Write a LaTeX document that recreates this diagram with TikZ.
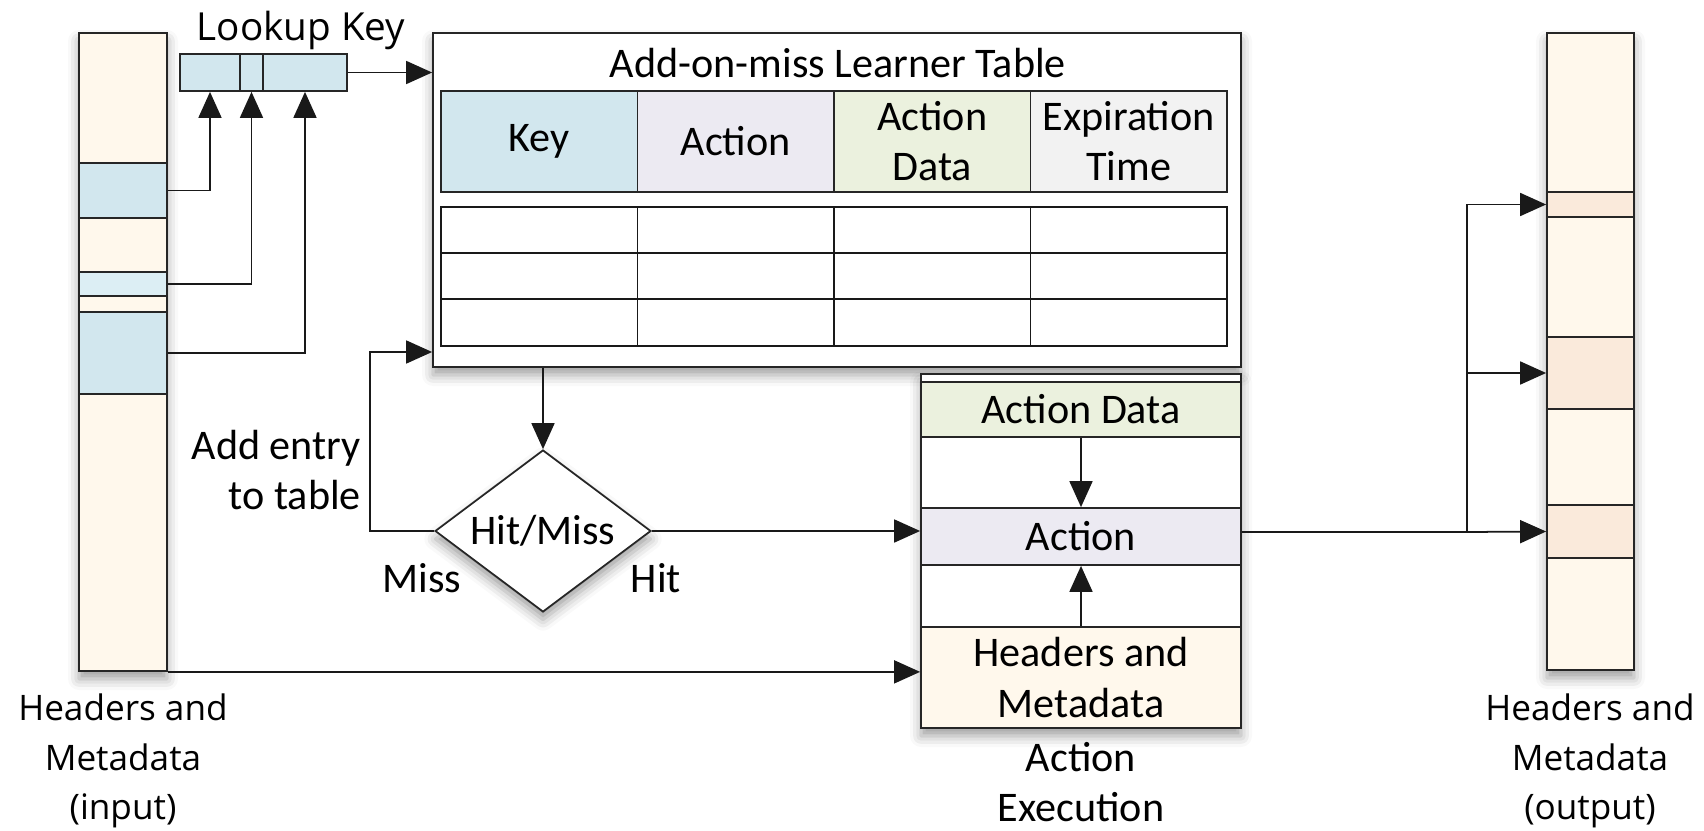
\documentclass[tikz,border=0pt]{standalone}
\usepackage{fontspec}
\setmainfont{Carlito}
\newfontfamily\opensans{Open Sans}
\usetikzlibrary{arrows.meta,fit,shapes.geometric,shadows.blur}

\definecolor{cream}{HTML}{FFF8EC}
\definecolor{keyblue}{HTML}{D2E7EE}
\definecolor{ltblue}{HTML}{DCEEF4}
\definecolor{actlilac}{HTML}{ECEAF2}
\definecolor{datagreen}{HTML}{EBF1DE}
\definecolor{expgray}{HTML}{F2F2F2}
\definecolor{peach}{HTML}{FAEADB}

\tikzset{
  box/.style={draw=black!85, line width=1pt, inner sep=0pt},
  shadowed/.style={blur shadow={shadow xshift=0pt, shadow yshift=-0.16cm, shadow blur radius=0.22cm, shadow opacity=38}},
  arr/.style={-{Triangle[length=0.52cm,width=0.46cm]}, line width=1pt, draw=black!90},
  conn/.style={line width=1pt, draw=black!90},
  sidelabel/.style={font=\opensans\fontsize{20}{28}\selectfont, align=center},
}

\begin{document}
\begin{tikzpicture}[x=0.02cm,y=-0.02cm, every node/.style={font=\fontsize{24}{28.5}\selectfont}]
\useasboundingbox (0,0) rectangle (1704,831);

% input packet
\node[box, fill=cream, shadowed, fit={(79,33) (167,671)}] (inbar) {};
\node[box, fill=keyblue, fit={(79,163) (167,218)}] (iseg1) {};
\node[box, fill=ltblue, fit={(79,272) (167,296)}] (iseg2) {};
\node[box, fill=keyblue, fit={(79,312) (167,394)}] (iseg3) {};
\node[sidelabel] (inlbl) at (123,761) {Headers and\\Metadata\\(input)};

% lookup key
\node[sidelabel, font=\opensans\fontsize{22}{28}\selectfont] (keylbl) at (301,30) {Lookup Key};
\node[box, fill=keyblue, fit={(180,54) (240,91)}] (key1) {};
\node[box, fill=keyblue, fit={(240,54) (263,91)}] (key2) {};
\node[box, fill=keyblue, fit={(263,54) (347,91)}] (key3) {};

\draw[arr] (iseg1.east) -| (key1.south);
\draw[arr] (iseg2.east) -| (key2.south);
\draw[arr] (iseg3.east) -| (key3.south);

% learner table
\node[box, fill=white, shadowed, fit={(433,33) (1241,367)}] (tbl) {};
\node (tbltitle) at (838,63) {Add-on-miss Learner Table};
\node[box, fill=keyblue, fit={(441,91) (637.5,192)}, label=center:Key] (hkey) {};
\node[box, fill=actlilac, fit={(637.5,91) (834,192)}, label=center:Action] (hact) {};
\node[box, fill=datagreen, fit={(834,91) (1030.5,192)}, label={[align=center]center:{Action\\Data}}] (hdata) {};
\node[box, fill=expgray, fit={(1030.5,91) (1227,192)}, label={[align=center]center:{Expiration\\Time}}] (hexp) {};
\draw[conn] (441,207) rectangle (1227,346);
\foreach \y in {253,299}
  \draw[conn] (441,\y) -- (1227,\y);
\foreach \x in {637.5,834,1030.5}
  \draw[conn] (\x,207) -- (\x,346);

\draw[arr] (key3.east) -- (key3.east -| tbl.west);

% hit / miss decision
\node[draw=black!85, line width=1pt, diamond, aspect=1.333, minimum width=4.32cm, minimum height=3.24cm,
  inner sep=0pt, fill=white, shadowed] (hm) at (543,531) {Hit/Miss};
\node (misslbl) at (422,578) {Miss};
\node (hitlbl) at (656,578) {Hit};
\node[anchor=east, align=right] (addlbl) at (367,470) {Add entry\\to table};

\coordinate (missbend) at (370,352);
\draw[arr] (tbl.south -| hm.north) -- (hm.north);
\draw[arr] (hm.west) -| (missbend) -- (missbend -| tbl.west);

% action execution
\node[box, fill=white, shadowed, fit={(921,374) (1241,728)}] (exe) {};
\node[box, fill=datagreen, fit={(921,382) (1241,437)}, label=center:{Action Data}] (adata) {};
\node[box, fill=actlilac, fit={(921,508) (1241,565)}, label=center:Action] (act) {};
\node[box, fill=cream, fit={(921,627) (1241,728)}, label={[align=center]center:{Headers and\\Metadata}}] (hdr) {};
\node[align=center] (exelbl) at (1081,782) {Action\\Execution};

\draw[arr] (adata.south) -- (act.north);
\draw[arr] (hdr.north) -- (act.south);
\draw[arr] (hm.east) -- (hm.east -| exe.west);
\draw[arr] (inbar.south east) -- (inbar.south east -| hdr.west);

% output packet
\node[box, fill=cream, shadowed, fit={(1547,33) (1634,670)}] (outbar) {};
\node[box, fill=peach, fit={(1547,192) (1634,217)}] (oseg1) {};
\node[box, fill=peach, fit={(1547,337) (1634,409)}] (oseg2) {};
\node[box, fill=peach, fit={(1547,505) (1634,558)}] (oseg3) {};
\node[sidelabel] (outlbl) at (1590,761) {Headers and\\Metadata\\(output)};

\coordinate (split) at (1467,532);
\draw[conn] (exe.east |- split) -- (split);
\draw[arr] (split) |- (oseg1.west);
\draw[arr] (split) |- (oseg2.west);
\draw[arr] (split) -- (oseg3.west);
\end{tikzpicture}
\end{document}
